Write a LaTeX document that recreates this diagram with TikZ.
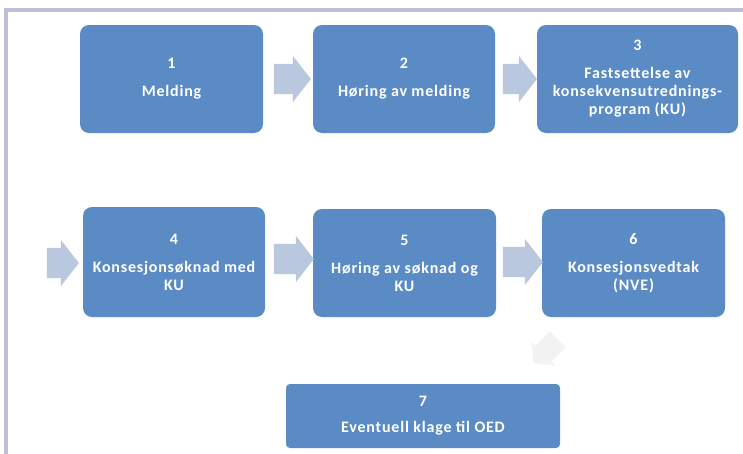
\documentclass[tikz,border=0pt]{standalone}
\usepackage{fontspec}
\setmainfont{Carlito}
\newfontfamily\boxfont[LetterSpace=5]{Carlito}
\usetikzlibrary{shapes.arrows}
\definecolor{boxblue}{HTML}{5A8BC4}
\definecolor{arrowblue}{HTML}{B9C8DF}
\definecolor{faintgray}{HTML}{F2F2F2}
\definecolor{framecol}{HTML}{BCBFD8}
\begin{document}
\begin{tikzpicture}[x=1pt,y=-1pt,
  stepbox/.style={fill=boxblue, rounded corners=9pt, inner sep=0pt, text=white,
    font=\boxfont\fontsize{16}{18}\selectfont\bfseries, align=center},
  blockarrow/.style={single arrow, fill=arrowblue, draw=none, inner sep=0pt,
    inner ysep=15pt, single arrow head extend=8pt, single arrow tip angle=104,
    single arrow head indent=0pt},
  diagarrow/.style={single arrow, fill=faintgray, draw=none, inner sep=0pt,
    inner ysep=11pt, single arrow head extend=6pt, single arrow tip angle=104,
    single arrow head indent=0pt, minimum height=34pt}
]
\useasboundingbox (0,0) rectangle (743,453);
% frame
\draw[framecol, line width=4pt] (6,460) -- (6,10) -- (760,10);
% boxes row 1
\node[stepbox, minimum width=183pt, minimum height=108pt] (b1) at (171.5,79) {1\\[10pt]Melding};
\node[stepbox, minimum width=182pt, minimum height=108pt] (b2) at (404,79) {2\\[10pt]Høring av melding};
\node[stepbox, minimum width=201pt, minimum height=108pt] (b3) at (637.5,79) {3\\[10pt]Fastsettelse av\\konsekvensutrednings-\\program (KU)};
% boxes row 2
\node[stepbox, minimum width=182pt, minimum height=110pt] (b4) at (174,262) {4\\[10pt]Konsesjonsøknad med\\KU};
\node[stepbox, minimum width=183pt, minimum height=108pt] (b5) at (404.5,263) {5\\[10pt]Høring av søknad og\\KU};
\node[stepbox, minimum width=183pt, minimum height=108pt] (b6) at (633.5,263) {6\\[10pt]Konsesjonsvedtak\\(NVE)};
% box 7
\node[stepbox, rounded corners=4pt, minimum width=274pt, minimum height=64pt] (b7) at (423,416) {7\\[8pt]Eventuell klage til OED};
% arrows
\node[blockarrow, minimum height=37pt] (a12) at (286.5,79) {};
\node[blockarrow, minimum height=34pt] (a23) at (514,79) {};
\node[blockarrow, minimum height=32pt] (a04) at (57,263) {};
\node[blockarrow, minimum height=40pt] (a45) at (288,259) {};
\node[blockarrow, minimum height=40pt] (a56) at (517,262) {};
\node[diagarrow, rotate=-135] (a67) at (549,348) {};
\end{tikzpicture}
\end{document}
